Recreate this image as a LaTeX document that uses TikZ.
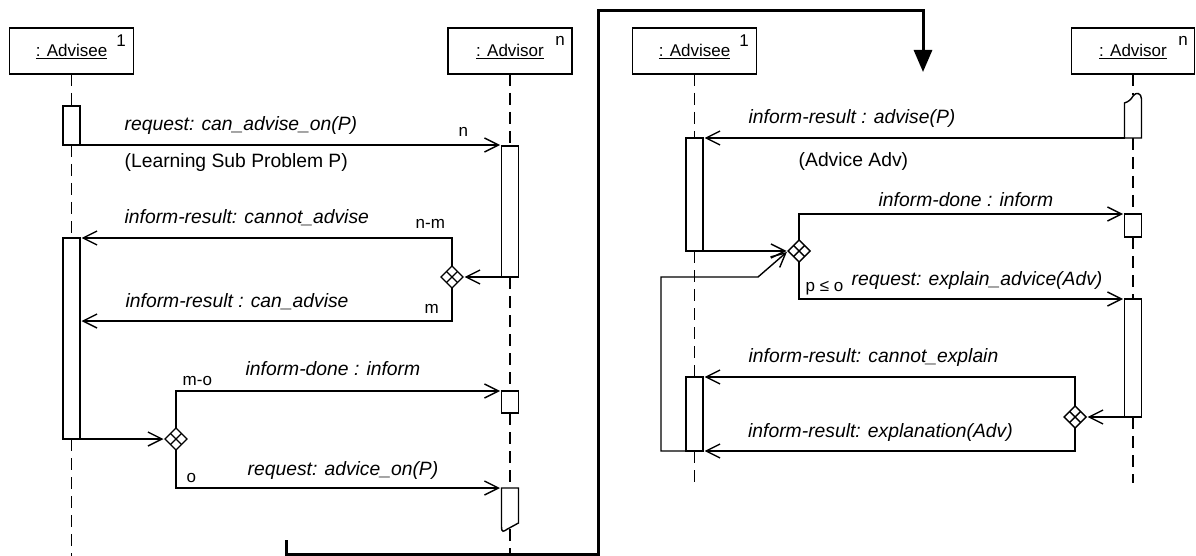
\documentclass[tikz,border=0pt]{standalone}
\usepackage{fontspec}
\setmainfont{Liberation Sans}
\usetikzlibrary{arrows.meta,shapes.geometric,calc}

\begin{document}
\begin{tikzpicture}[x=1pt,y=-1pt,
  line width=1.4pt,
  obj/.style={draw, rectangle, minimum width=124pt, minimum height=46pt,
    inner sep=0pt, outer sep=0pt, text height=12pt, text depth=0pt,
    font=\fontsize{17}{20}\selectfont},
  bar/.style={draw, fill=white, rectangle, minimum width=17pt,
    inner sep=0pt, outer sep=0pt},
  mult/.style={font=\fontsize{17}{20}\selectfont, inner sep=0pt, anchor=base west},
  msglabel/.style={font=\fontsize{19.3}{22}\selectfont\itshape, inner sep=0pt, anchor=base west},
  note/.style={font=\fontsize{19.3}{22}\selectfont, inner sep=0pt, anchor=base west},
  lifeline/.style={line width=1.3pt, dash pattern=on 12pt off 7pt},
  msg/.style={-{Straight Barb[length=14pt,width=14pt]}, shorten >=1.5pt},
  xor/.style={draw, fill=white, diamond, aspect=1, minimum size=22pt,
    inner sep=0pt, outer sep=0pt,
    path picture={
      \draw[line width=1.4pt]
        ($(path picture bounding box.north)!0.5!(path picture bounding box.east)$) --
        ($(path picture bounding box.south)!0.5!(path picture bounding box.west)$)
        ($(path picture bounding box.north)!0.5!(path picture bounding box.west)$) --
        ($(path picture bounding box.south)!0.5!(path picture bounding box.east)$);}},
  frame/.style={line width=3pt, line join=miter},
]
\useasboundingbox (0,0) rectangle (1196,556);

% ---------------- first phase: asking for advice ----------------
\node[obj] (lee) at (71.5,51) {\underline{: Advisee}};
\node[mult, anchor=center] (lee1) at (121,41) {1};
\node[obj] (lor) at (510,51) {\underline{: Advisor}};
\node[mult, anchor=center] (lorn) at (560,41) {n};

\node[bar, minimum height=39pt] (lA1) at (71.5,125.5) {};
\node[bar, minimum height=201pt] (lA2) at (71.5,338.5) {};
\node[bar, minimum height=131pt] (lB1) at (510,211.5) {};
\node[bar, minimum height=22pt] (lB2) at (510,402) {};
% activation that continues past the cut
\draw (501.5,488) -- (518.5,488) -- (518.5,523) -- (507.5,529)
  .. controls (503.5,531.5) and (501.5,533.5) .. (501.5,526) -- cycle;
\coordinate (lB3nw) at (501.5,488);
\coordinate (lB3top) at (510,488);
\coordinate (lB3bot) at (510,529);

\node[xor] (lX1) at (452,277) {};
\node[xor] (lX2) at (176,439) {};

\coordinate (leeEnd) at (71.5,556);
\coordinate (lorEnd) at (510,556);
\draw[lifeline] (lee.south) -- (lA1.north);
\draw[lifeline] (lA1.south) -- (lA2.north);
\draw[lifeline] (lA2.south) -- (leeEnd);
\draw[lifeline] (lor.south) -- (lB1.north);
\draw[lifeline] (lB1.south) -- (lB2.north);
\draw[lifeline] (lB2.south) -- (lB3top);
\draw[lifeline] (lB3bot) -- (lorEnd);

\draw[msg] (lA1.south east) -- (lA1.south east -| lB1.west);
\node[msglabel] (t1) at (124,131) {request: can\_advise\_on(P)};
\node[mult] (t1n) at (458,137) {n};
\node[note] (t1b) at (124,168) {(Learning Sub Problem P)};

\draw[msg] (lB1.south west) -- (lX1.east);
\coordinate (lA2in) at (80,321);
\draw[msg] (lX1.north) |- (lA2.north east);
\draw[msg] (lX1.south) |- (lA2in);
\node[msglabel] (t2) at (124,223) {inform-result: cannot\_advise};
\node[mult] (t2n) at (415,229) {n-m};
\node[msglabel] (t3) at (125,307) {inform-result : can\_advise};
\node[mult] (t3n) at (424,313) {m};

\draw[msg] (lA2.south east) -- (lX2.west);
\draw[msg] (lX2.north) |- (lB2.north west);
\draw[msg] (lX2.south) |- (lB3nw);
\node[mult] (t4n) at (182,385) {m-o};
\node[msglabel] (t4) at (245,375) {inform-done : inform};
\node[mult] (t5n) at (186,482) {o};
\node[msglabel] (t5) at (247,475) {request: advice\_on(P)};

% ---------------- page flow ----------------
\coordinate (f0) at (286,540);
\coordinate (f1) at (286,554.5);
\coordinate (f2) at (598,554.5);
\coordinate (f3) at (598,11);
\coordinate (f4) at (923,11);
\coordinate (f5) at (923,72);
\draw[frame, -{Triangle[length=22pt,width=18pt]}] (f0) -- (f1) -- (f2) -- (f3) -- (f4) -- (f5);

% ---------------- second phase: receiving advice ----------------
\node[obj] (ree) at (694.5,51) {\underline{: Advisee}};
\node[mult, anchor=center] (ree1) at (744,41) {1};
\node[obj, minimum width=123pt] (ror) at (1133,51) {\underline{: Advisor}};
\node[mult, anchor=center] (rorn) at (1183,41) {n};

\node[bar, minimum height=113pt] (rA1) at (694.5,194.5) {};
\node[bar, minimum height=74pt] (rA2) at (694.5,414) {};
% activation that started before the cut
\draw (1124.5,138) -- (1124.5,103) .. controls (1129,101.5) and (1131,99.5) .. (1133,96)
  .. controls (1136,91.5) and (1141.5,93) .. (1141.5,99) -- (1141.5,138) -- cycle;
\coordinate (rB1sw) at (1124.5,138);
\coordinate (rB1top) at (1133,95);
\coordinate (rB1bot) at (1133,138);
\node[bar, minimum height=23pt] (rB2) at (1133,225.5) {};
\node[bar, minimum height=118pt] (rB3) at (1133,358) {};

\node[xor] (rX1) at (799,251) {};
\node[xor] (rX2) at (1075,417) {};

\coordinate (reeEnd) at (694.5,483);
\coordinate (rorEnd) at (1133,483);
\draw[lifeline] (ree.south) -- (rA1.north);
\draw[lifeline] (rA1.south) -- (rA2.north);
\draw[lifeline] (rA2.south) -- (reeEnd);
\draw[lifeline] (ror.south) -- (rB1top);
\draw[lifeline] (rB1bot) -- (rB2.north);
\draw[lifeline] (rB2.south) -- (rB3.north);
\draw[lifeline] (rB3.south) -- (rorEnd);

\draw[msg] (rB1sw) -- (rA1.north east);
\node[msglabel] (u1) at (748,124) {inform-result : advise(P)};
\node[note] (u1b) at (798,167) {(Advice Adv)};

\draw[msg] (rA1.south east) -- (rX1.west);
\coordinate (rL1) at (661,451);
\coordinate (rL2) at (661,277);
\coordinate (rL3) at (758,277);
\draw[msg] (rA2.south west) -- (rL1) -- (rL2) -- (rL3) -- (rX1.west);

\draw[msg] (rX1.north) |- (rB2.north west);
\draw[msg] (rX1.south) |- (rB3.north west);
\node[msglabel] (u2) at (878,207) {inform-done : inform};
\node[mult] (u3n) at (805,291) {p ≤ o};
\node[msglabel] (u3) at (851,285) {request: explain\_advice(Adv)};

\draw[msg] (rB3.south west) -- (rX2.east);
\draw[msg] (rX2.north) |- (rA2.north east);
\draw[msg] (rX2.south) |- (rA2.south east);
\node[msglabel] (u4) at (748,362) {inform-result: cannot\_explain};
\node[msglabel] (u5) at (747.5,437) {inform-result: explanation(Adv)};
\end{tikzpicture}
\end{document}
